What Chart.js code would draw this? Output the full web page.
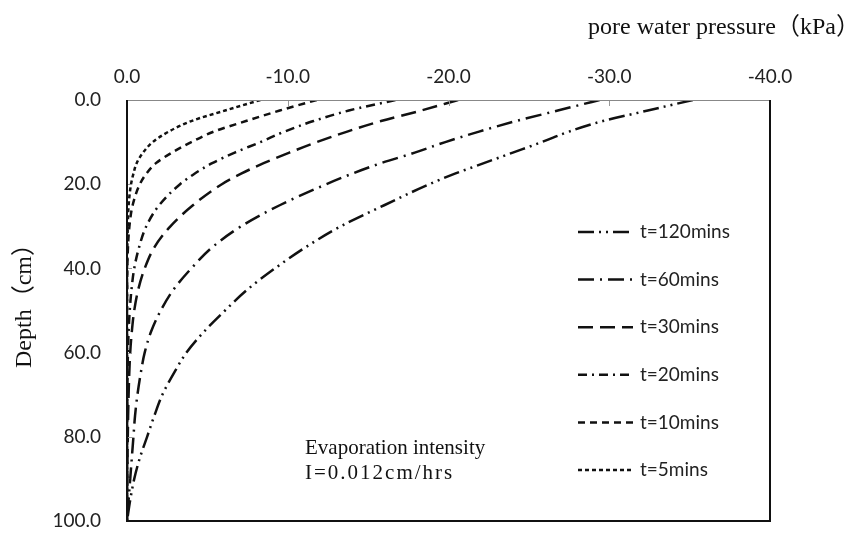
<!DOCTYPE html>
<html>
<head>
<meta charset="utf-8">
<script src="https://cdn.jsdelivr.net/npm/chart.js@4.4.1/dist/chart.umd.min.js"></script>
<style>
  html, body { margin: 0; padding: 0; background: #fff; }
  #wrap { width: 848px; height: 536px; }
</style>
</head>
<body>
<div id="wrap"><canvas id="profile_chart" width="848" height="536"></canvas></div>
<script>
"use strict";

// Depth below the soil surface (cm), shared by every profile
var depths = [0, 2.5, 5, 7.5, 10, 12.5, 15, 17.5, 20, 25, 30, 35, 40, 45, 50, 55, 60, 65, 70, 75, 80, 85, 90, 95, 100];

// Pore water pressure (kPa) at each depth, one array per elapsed time
var p120 = [-35.2, -32.4, -29.6, -27.5, -25.8, -24.0, -22.2, -20.4, -18.8, -16.0, -13.3, -11.1, -9.2, -7.5, -6.1, -4.8, -3.7, -2.9, -2.2, -1.7, -1.25, -0.8, -0.45, -0.2, 0];
var p60  = [-29.4, -26.8, -24.2, -21.9, -19.8, -17.9, -15.8, -14.0, -12.4, -9.5, -7.1, -5.3, -4.0, -2.9, -2.1, -1.5, -1.1, -0.85, -0.65, -0.5, -0.4, -0.3, -0.2, -0.1, 0];
var p30  = [-20.6, -18.3, -15.8, -13.7, -11.8, -10.1, -8.5, -7.1, -5.9, -4.1, -2.7, -1.7, -1.1, -0.7, -0.45, -0.3, -0.2, -0.14, -0.1, -0.07, -0.05, -0.03, -0.02, -0.01, 0];
var p20  = [-16.7, -13.8, -11.6, -9.8, -8.3, -6.7, -5.3, -4.2, -3.3, -2.0, -1.2, -0.75, -0.45, -0.28, -0.17, -0.1, -0.06, -0.03, -0.02, -0.01, 0, 0, 0, 0, 0];
var p10  = [-11.8, -9.5, -7.4, -5.4, -4.0, -2.8, -1.8, -1.2, -0.8, -0.35, -0.15, -0.06, -0.02, -0.01, 0, 0, 0, 0, 0, 0, 0, 0, 0, 0, 0];
var p5   = [-8.3, -6.1, -4.0, -2.6, -1.6, -1.0, -0.6, -0.4, -0.25, -0.1, -0.05, -0.02, 0, 0, 0, 0, 0, 0, 0, 0, 0, 0, 0, 0, 0];

var seriesNames = ["t=120mins", "t=60mins", "t=30mins", "t=20mins", "t=10mins", "t=5mins"];
var seriesValues = [p120, p60, p30, p20, p10, p5];

var noteLines = ["Evaporation intensity", "I=0.012cm/hrs"];
var xTitle = "pore water pressure\uFF08kPa\uFF09";
var yTitle = "Depth\uFF08cm\uFF09";

// Excel-like line styles: dash-dot-dot, dash-dot, long dash, dash-dot, dash, short dash
var dashStyles = [[16, 5, 2, 5, 2, 5], [16, 6, 2, 6], [15, 7], [9, 5, 2, 5], [7, 5], [4, 3]];

var serif = "'Liberation Serif', 'Noto Sans CJK SC', serif";
var sans = "Lato, 'Open Sans', sans-serif";

var datasets = seriesValues.map(function (vals, i) {
    return {
        label: seriesNames[i],
        data: depths.map(function (d, j) { return { x: vals[j], y: d }; }),
        borderColor: '#111',
        borderWidth: 2.5,
        borderDash: dashStyles[i],
        pointRadius: 0,
        fill: false,
        cubicInterpolationMode: 'monotone'
    };
});

// frame, inner tick marks, titles, note and legend drawn by hand
var decorations = {
    id: 'decorations',
    afterDatasetsDraw: function (chart) {
        var ctx = chart.ctx;
        var a = chart.chartArea;
        var xs = chart.scales.x, ys = chart.scales.y;
        ctx.save();

        // inner tick marks
        ctx.strokeStyle = '#999';
        ctx.lineWidth = 1;
        xs.ticks.forEach(function (t) {
            var px = Math.round(xs.getPixelForValue(t.value)) + 0.5;
            ctx.beginPath(); ctx.moveTo(px, a.top); ctx.lineTo(px, a.top + 6); ctx.stroke();
        });
        ys.ticks.forEach(function (t) {
            var py = Math.round(ys.getPixelForValue(t.value)) + 0.5;
            ctx.beginPath(); ctx.moveTo(a.left, py); ctx.lineTo(a.left + 5, py); ctx.stroke();
        });

        // plot frame
        ctx.strokeStyle = '#888';
        ctx.lineWidth = 1;
        ctx.beginPath(); ctx.moveTo(a.left, a.top + 0.5); ctx.lineTo(a.right, a.top + 0.5); ctx.stroke();
        ctx.strokeStyle = '#111';
        ctx.lineWidth = 2;
        ctx.beginPath();
        ctx.moveTo(a.left, a.top);
        ctx.lineTo(a.left, a.bottom);
        ctx.lineTo(a.right, a.bottom);
        ctx.lineTo(a.right, a.top);
        ctx.stroke();

        // axis titles
        ctx.fillStyle = '#111';
        ctx.font = '24px ' + serif;
        ctx.textBaseline = 'middle';
        ctx.textAlign = 'left';
        ctx.fillText(xTitle, 588, 28);
        ctx.save();
        ctx.translate(25, 300);
        ctx.rotate(-Math.PI / 2);
        ctx.textAlign = 'center';
        ctx.fillText(yTitle, 0, 0);
        ctx.restore();

        // note inside the plot
        ctx.font = '21px ' + serif;
        ctx.textAlign = 'left';
        ctx.fillText(noteLines[0], a.left + 178, 448);
        ctx.letterSpacing = '2px';
        ctx.fillText(noteLines[1], a.left + 178, 473);
        ctx.letterSpacing = '0px';

        // legend
        ctx.font = '19px ' + sans;
        chart.data.datasets.forEach(function (ds, i) {
            var ly = 232 + i * 47.6;
            ctx.strokeStyle = '#111';
            ctx.lineWidth = 2.5;
            ctx.setLineDash(ds.borderDash);
            ctx.beginPath(); ctx.moveTo(a.left + 451, ly); ctx.lineTo(a.left + 506, ly); ctx.stroke();
            ctx.setLineDash([]);
            ctx.fillStyle = '#222';
            ctx.fillText(ds.label, a.left + 513, ly);
        });
        ctx.restore();
    }
};

var profileArea = document.getElementById("profile_chart");
var profileChart = new Chart(profileArea, {
    type: 'line',
    data: { datasets: datasets },
    plugins: [decorations],
    options: {
        responsive: false,
        animation: false,
        indexAxis: 'y',
        layout: { padding: { left: 0, right: 78, top: 0, bottom: 15 } },
        plugins: { legend: { display: false }, tooltip: { enabled: false } },
        scales: {
            x: {
                type: 'linear',
                position: 'top',
                min: -40,
                max: 0,
                reverse: true,
                grid: { display: false, drawTicks: false },
                border: { display: false },
                ticks: {
                    stepSize: 10,
                    padding: 12,
                    color: '#222',
                    font: { family: sans, size: 19 },
                    callback: function (v) { return v.toFixed(1); }
                },
                afterFit: function (s) { s.height = 100; s.paddingLeft = 0; s.paddingRight = 0; }
            },
            y: {
                type: 'linear',
                min: 0,
                max: 100,
                reverse: true,
                grid: { display: false, drawTicks: false },
                border: { display: false },
                ticks: {
                    stepSize: 20,
                    padding: 26,
                    color: '#222',
                    font: { family: sans, size: 19 },
                    callback: function (v) { return v.toFixed(1); }
                },
                afterFit: function (s) { s.width = 127; s.paddingTop = 0; s.paddingBottom = 0; }
            }
        }
    }
});
</script>
</body>
</html>
